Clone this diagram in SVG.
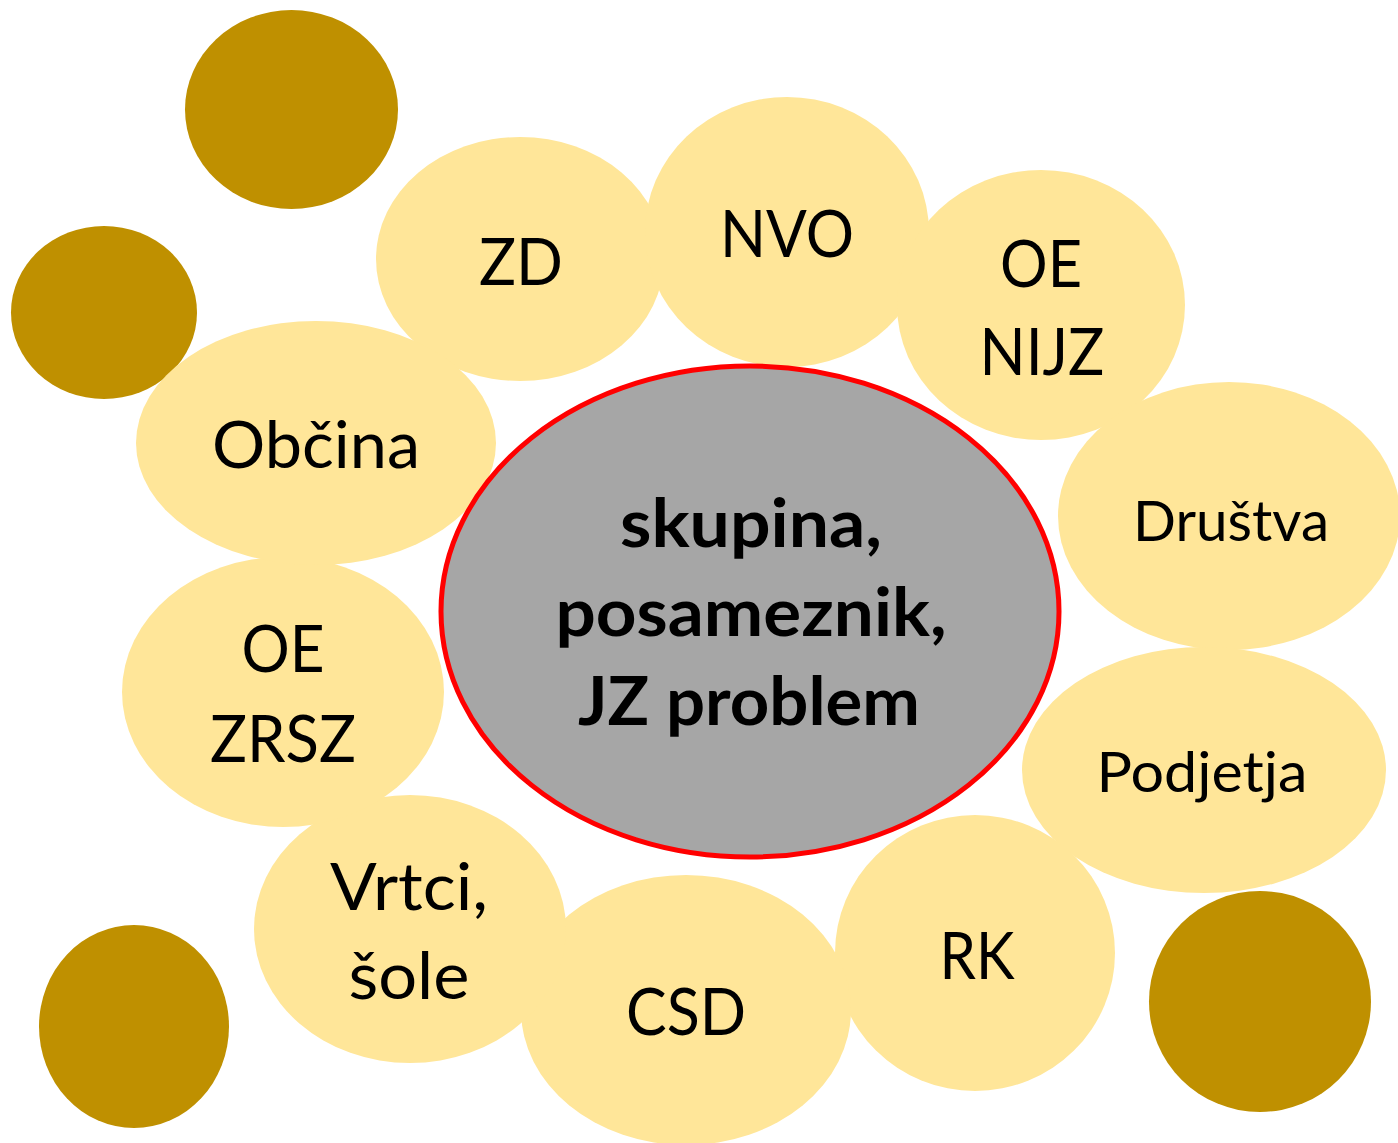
<svg xmlns="http://www.w3.org/2000/svg" width="1398" height="1143" viewBox="0 0 1398 1143">
  <style>
    .dark { fill: #BF9000; }
    .node { fill: #FFE699; }
    .core { fill: #A6A6A6; stroke: #FF0000; stroke-width: 5; }
    .lbl { font-family: Lato, "Open Sans", "Noto Sans", sans-serif; font-size: 65px; fill: #000; text-anchor: middle; }
    .lbl-s { font-family: Lato, "Open Sans", "Noto Sans", sans-serif; font-size: 56px; fill: #000; text-anchor: middle; }
    .lbl-b { font-family: Lato, "Open Sans", "Noto Sans", sans-serif; font-size: 67px; font-weight: bold; fill: #000; text-anchor: middle; }
  </style>
  <rect width="1398" height="1143" fill="#FFFFFF"/>

  <g id="decor">
    <ellipse class="dark" cx="291.5" cy="109.5" rx="106.5" ry="99.5"/>
    <ellipse class="dark" cx="104" cy="312.5" rx="93" ry="86.5"/>
    <ellipse class="dark" cx="134" cy="1026.5" rx="95" ry="101.5"/>
    <ellipse class="dark" cx="1260" cy="1001.5" rx="111" ry="110.5"/>
  </g>

  <g id="connectors"></g>

  <g id="node-zd">
    <ellipse class="node" cx="520" cy="259" rx="144" ry="122"/>
    <text class="lbl" x="521" y="285" textLength="84" lengthAdjust="spacingAndGlyphs">ZD</text>
  </g>
  <g id="node-nvo">
    <ellipse class="node" cx="787" cy="232" rx="142" ry="135"/>
    <text class="lbl" x="787" y="257" textLength="134" lengthAdjust="spacingAndGlyphs">NVO</text>
  </g>
  <g id="node-oe-nijz">
    <ellipse class="node" cx="1041" cy="305" rx="144" ry="135"/>
    <text class="lbl" x="1041" y="287" textLength="82" lengthAdjust="spacingAndGlyphs">OE</text>
    <text class="lbl" x="1042" y="375" textLength="125" lengthAdjust="spacingAndGlyphs">NIJZ</text>
  </g>
  <g id="node-drustva">
    <ellipse class="node" cx="1229" cy="516" rx="171" ry="134"/>
    <text class="lbl-s" x="1231" y="541" textLength="196" lengthAdjust="spacingAndGlyphs">Društva</text>
  </g>
  <g id="node-podjetja">
    <ellipse class="node" cx="1204" cy="770" rx="182" ry="123"/>
    <text class="lbl-s" x="1202" y="792" textLength="211" lengthAdjust="spacingAndGlyphs">Podjetja</text>
  </g>
  <g id="node-rk">
    <ellipse class="node" cx="975" cy="953" rx="140" ry="138"/>
    <text class="lbl" x="977" y="979" textLength="75" lengthAdjust="spacingAndGlyphs">RK</text>
  </g>
  <g id="node-csd">
    <ellipse class="node" cx="686" cy="1010" rx="165" ry="135"/>
    <text class="lbl" x="686" y="1035" textLength="120" lengthAdjust="spacingAndGlyphs">CSD</text>
  </g>
  <g id="node-vrtci">
    <ellipse class="node" cx="410" cy="929" rx="156" ry="134"/>
    <text class="lbl" x="409" y="910" textLength="158" lengthAdjust="spacingAndGlyphs">Vrtci,</text>
    <text class="lbl" x="409" y="999" textLength="121" lengthAdjust="spacingAndGlyphs">šole</text>
  </g>
  <g id="node-oe-zrsz">
    <ellipse class="node" cx="283" cy="692" rx="161" ry="135"/>
    <text class="lbl" x="283" y="672" textLength="83" lengthAdjust="spacingAndGlyphs">OE</text>
    <text class="lbl" x="283" y="762" textLength="146" lengthAdjust="spacingAndGlyphs">ZRSZ</text>
  </g>
  <g id="node-obcina">
    <ellipse class="node" cx="316" cy="443" rx="180" ry="122"/>
    <text class="lbl" x="316" y="468" textLength="208" lengthAdjust="spacingAndGlyphs">Občina</text>
  </g>

  <g id="node-center">
    <ellipse class="core" cx="750" cy="611.5" rx="309" ry="245.5"/>
    <text class="lbl-b" x="751" y="547" textLength="262" lengthAdjust="spacingAndGlyphs">skupina,</text>
    <text class="lbl-b" x="751" y="636" textLength="391" lengthAdjust="spacingAndGlyphs">posameznik,</text>
    <text class="lbl-b" x="749" y="725" textLength="342" lengthAdjust="spacingAndGlyphs">JZ problem</text>
  </g>
</svg>
